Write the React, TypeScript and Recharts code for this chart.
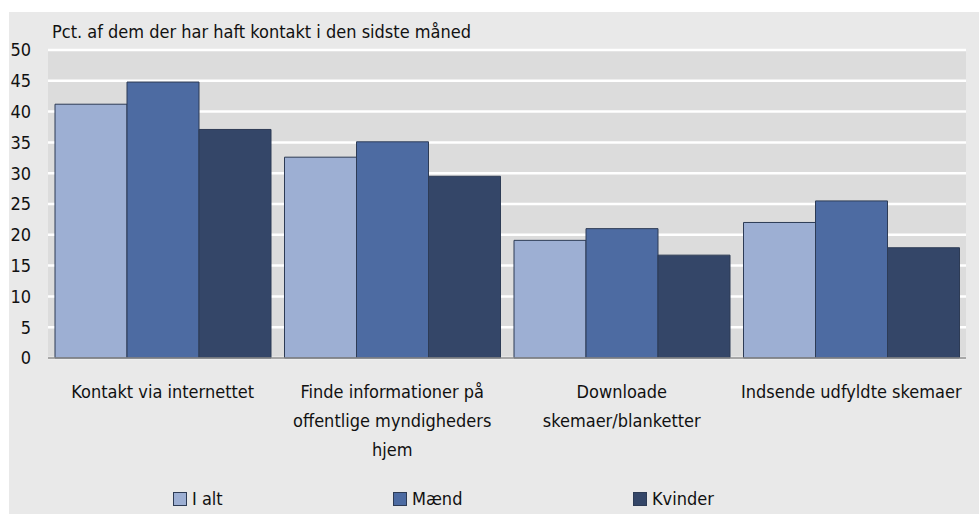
import React from "react";
import { BarChart, Bar, XAxis, YAxis, CartesianGrid, Legend, Text } from "recharts";

// Values (percent)
const categories = [
    "Kontakt via internettet",
    "Finde informationer på offentlige myndigheders hjem",
    "Downloade skemaer/blanketter",
    "Indsende udfyldte skemaer",
];
const iAlt = [41.2, 32.6, 19.1, 22.0];
const maend = [44.8, 35.1, 21.0, 25.5];
const kvinder = [37.1, 29.5, 16.7, 17.9];
const seriesNames = ["I alt", "Mænd", "Kvinder"];
const yTicks = [0, 5, 10, 15, 20, 25, 30, 35, 40, 45, 50];
const unitLabel = "Pct. af dem der har haft kontakt i den sidste måned";

const colors = ["#9dafd3", "#4d6ba2", "#344668"];
const FONT = "'Liberation Sans Narrow', 'DejaVu Sans Condensed', 'Noto Sans', sans-serif";

const data = categories.map((name, i) => ({
    name,
    iAlt: iAlt[i],
    maend: maend[i],
    kvinder: kvinder[i],
}));

const CategoryTick = (props: any) => {
    const { x, y, payload } = props;
    return (
        <Text
            x={x}
            y={y}
            width={210}
            textAnchor="middle"
            verticalAnchor="start"
            lineHeight={29}
            fontSize={18}
            fontFamily={FONT}
            style={{ fontSize: 18, fontFamily: FONT }}
            fill="#111"
        >
            {payload.value}
        </Text>
    );
};

// legend item positions (px from chart left), spaced like the original
const legendLeft = [164, 384, 624];

const LegendContent = () => (
    <div style={{ position: "relative", height: 30, fontFamily: FONT, fontSize: 18, color: "#111" }}>
        {seriesNames.map((n, i) => (
            <div
                key={n}
                style={{ position: "absolute", left: legendLeft[i], top: 6, display: "flex", alignItems: "center" }}
            >
                <span
                    style={{
                        display: "inline-block",
                        width: 12,
                        height: 12,
                        background: colors[i],
                        border: "1px solid #2d3b55",
                        marginRight: 5,
                    }}
                />
                <span>{n}</span>
            </div>
        ))}
    </div>
);

export default function App() {
    return (
        <div
            style={{
                position: "absolute",
                left: 9,
                top: 12,
                width: 970,
                height: 502,
                background: "#e9e9e9",
            }}
        >
            <BarChart
                width={970}
                height={502}
                data={data}
                margin={{ top: 38, right: 13, left: 0, bottom: 2 }}
                barCategoryGap={7}
                barGap={0}
            >
                <CartesianGrid vertical={false} stroke="#ffffff" strokeWidth={2.5} fill="#dcdcdc" />
                <XAxis
                    dataKey="name"
                    height={124}
                    interval={0}
                    tickLine={false}
                    axisLine={{ stroke: "#8a8a8a", strokeWidth: 1.5 }}
                    tickMargin={21}
                    tick={<CategoryTick />}
                />
                <YAxis
                    width={39}
                    domain={[0, 50]}
                    ticks={yTicks}
                    interval={0}
                    axisLine={false}
                    tickLine={false}
                    tickSize={0}
                    tickMargin={17}
                    tick={{ fontSize: 18, fill: "#111", fontFamily: FONT }}
                />
                <Legend verticalAlign="bottom" height={30} content={<LegendContent />} />
                <Bar dataKey="iAlt" name={seriesNames[0]} fill={colors[0]} stroke="#2d3b55" strokeWidth={1} isAnimationActive={false} />
                <Bar dataKey="maend" name={seriesNames[1]} fill={colors[1]} stroke="#2d3b55" strokeWidth={1} isAnimationActive={false} />
                <Bar dataKey="kvinder" name={seriesNames[2]} fill={colors[2]} stroke="#2d3b55" strokeWidth={1} isAnimationActive={false} />
                <text x={43} y={26} fontSize={18} fontFamily={FONT} fill="#111">
                    {unitLabel}
                </text>
            </BarChart>
        </div>
    );
}
